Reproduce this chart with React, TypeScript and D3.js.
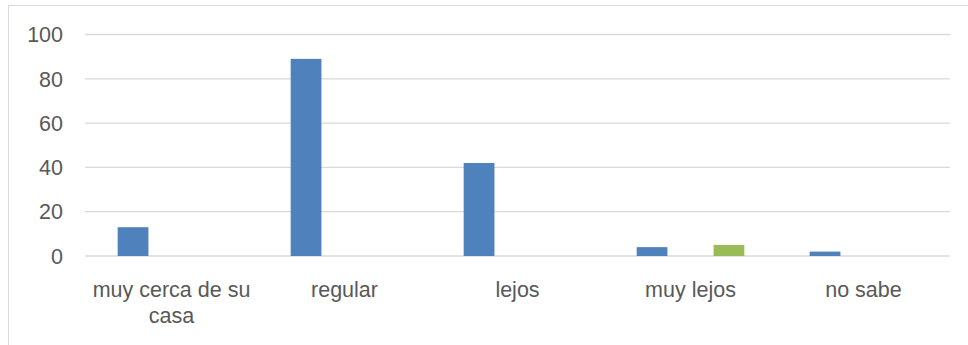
import React from "react";
import * as d3 from "d3";

const categories = ["muy cerca de su casa", "regular", "lejos", "muy lejos", "no sabe"];
const categoryLines = [["muy cerca de su", "casa"], ["regular"], ["lejos"], ["muy lejos"], ["no sabe"]];
const seriesNames = ["Serie 1", "Serie 2", "Serie 3"];
const series1 = [13, 89, 42, 4, 2];
const series2 = [0, 0, 0, 0, 0];
const series3 = [0, 0, 0, 5, 0];
const seriesColors = ["#4F81BD", "#C0504D", "#9BBB59"];
const yTicks = [0, 20, 40, 60, 80, 100];

export default function App() {
  const W = 968, H = 345;
  const left = 85, right = 950, top = 34.5, bottom = 256;
  const x0 = d3.scaleBand<string>().domain(categories).range([left, right]).padding(0);
  const x1 = d3
    .scaleBand<number>()
    .domain([0, 1, 2])
    .range([0, x0.bandwidth()])
    .paddingInner(0.2)
    .paddingOuter(0.85);
  const y = d3.scaleLinear().domain([0, 100]).range([bottom, top]);
  const all = [series1, series2, series3];
  const font = "'Liberation Sans', Arial, sans-serif";
  const fs = 21.5;

  return (
    <svg
      width={W}
      height={H}
      style={{ position: "fixed", left: 0, top: 0, background: "#fff" }}
      fontFamily={font}
    >
      <rect x={0} y={0} width={W} height={H} fill="#fff" />
      <line x1={8} y1={5.5} x2={W} y2={5.5} stroke="#D9D9D9" strokeWidth={1} />
      <line x1={8.5} y1={5} x2={8.5} y2={H} stroke="#D9D9D9" strokeWidth={1} />
      {yTicks.map((t) => (
        <g key={t}>
          <line x1={left} x2={right} y1={y(t)} y2={y(t)} stroke="#D9D9D9" strokeWidth={1.3} />
          <text x={63} y={y(t)} dy="0.36em" textAnchor="end" fontSize={fs} fill="#595959">
            {t}
          </text>
        </g>
      ))}
      {all.map((s, si) =>
        s.map((v, ci) =>
          v > 0 ? (
            <rect
              key={`${si}-${ci}`}
              x={(x0(categories[ci]) as number) + (x1(si) as number)}
              y={y(v)}
              width={x1.bandwidth()}
              height={y(0) - y(v)}
              fill={seriesColors[si]}
            />
          ) : null
        )
      )}
      {categories.map((c, ci) => (
        <text
          key={c}
          x={(x0(c) as number) + x0.bandwidth() / 2}
          y={297}
          textAnchor="middle"
          fontSize={fs}
          fill="#595959"
        >
          {categoryLines[ci].map((ln, li) => (
            <tspan key={li} x={(x0(c) as number) + x0.bandwidth() / 2} dy={li === 0 ? 0 : 26}>
              {ln}
            </tspan>
          ))}
        </text>
      ))}
    </svg>
  );
}
